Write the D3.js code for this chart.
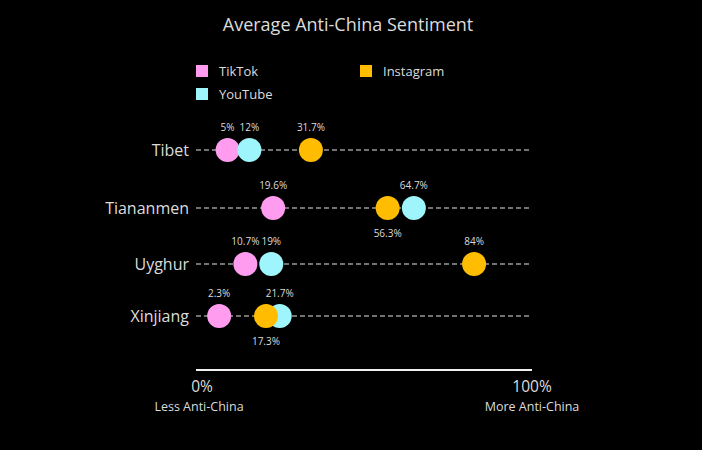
<!DOCTYPE html>
<html><head><meta charset="utf-8">
<script src="https://cdn.jsdelivr.net/npm/d3@7"></script>
<style>html,body{margin:0;padding:0;background:#000;}svg{display:block;}</style>
</head><body>
<svg id="chart" width="702" height="450"></svg>
<script>
const topics = ["Tibet", "Tiananmen", "Uyghur", "Xinjiang"];
const platforms = ["TikTok", "YouTube", "Instagram"];
const tiktokValues = [5, 19.6, 10.7, 2.3];
const youtubeValues = [12, 64.7, 19, 21.7];
const instagramValues = [31.7, 56.3, 84, 17.3];
const colors = ["#ff9cf0", "#9ef6fc", "#ffbc00"];
const labelsBelow = ["Tiananmen|Instagram", "Xinjiang|Instagram"];
const axisTicks = [0, 100];
const axisTickLabels = ["0%", "100%"];
const axisNotes = ["Less Anti-China", "More Anti-China"];

const seriesValues = {TikTok: tiktokValues, YouTube: youtubeValues, Instagram: instagramValues};
const svg = d3.select("#chart");
const font = "'Open Sans', 'Noto Sans', sans-serif";
const txt = "#dcdcdc";

svg.append("rect").attr("width", 702).attr("height", 450).attr("fill", "#000");

svg.append("text").attr("x", 348).attr("y", 31).attr("text-anchor", "middle")
  .attr("font-family", font).attr("font-size", 18).attr("fill", txt)
  .text("Average Anti-China Sentiment");

// legend
const legendPos = [[196, 65], [196, 88], [360, 65]];
const color = d3.scaleOrdinal().domain(platforms).range(colors);
platforms.forEach((p, i) => {
  const [lx, ly] = legendPos[i];
  svg.append("rect").attr("x", lx).attr("y", ly).attr("width", 12).attr("height", 12)
    .attr("fill", color(p));
  svg.append("text").attr("x", lx + 23).attr("y", ly + 6).attr("dominant-baseline", "central")
    .attr("font-family", font).attr("font-size", 13).attr("fill", txt).text(p);
});

const x = d3.scaleLinear().domain([0, 100]).range([212, 524]);
const y = d3.scaleOrdinal().domain(topics).range([150, 208, 264, 316]);
const lineX0 = 196, lineX1 = 532;

const rows = svg.append("g");
topics.forEach((t, ti) => {
  const cy = y(t);
  rows.append("line").attr("x1", lineX0).attr("x2", lineX1).attr("y1", cy).attr("y2", cy)
    .attr("stroke", "#e6e6e6").attr("stroke-width", 1).attr("stroke-dasharray", "5,3");
  rows.append("text").attr("x", 189).attr("y", cy).attr("text-anchor", "end")
    .attr("dominant-baseline", "central").attr("font-family", font).attr("font-size", 16)
    .attr("fill", txt).text(t);
  const pts = platforms.map(p => ({p, v: seriesValues[p][ti]}));
  pts.forEach(d => {
    rows.append("circle").attr("cx", x(d.v)).attr("cy", cy).attr("r", 12).attr("fill", color(d.p));
  });
  pts.forEach(d => {
    const below = labelsBelow.includes(t + "|" + d.p);
    rows.append("text").attr("x", x(d.v)).attr("y", below ? cy + 25 : cy - 23)
      .attr("text-anchor", "middle").attr("dominant-baseline", "central")
      .attr("font-family", font).attr("font-size", 10).attr("fill", txt)
      .text(d.v + "%");
  });
});

// bottom axis
svg.append("line").attr("x1", lineX0).attr("x2", lineX1).attr("y1", 370).attr("y2", 370)
  .attr("stroke", "#f0f0f0").attr("stroke-width", 2);
const axisLabelX = d3.scaleLinear().domain([0, 100]).range([202, 532]);
axisTicks.forEach((v, i) => {
  svg.append("text").attr("x", axisLabelX(v)).attr("y", 386).attr("text-anchor", "middle")
    .attr("dominant-baseline", "central").attr("font-family", font).attr("font-size", 15.5)
    .attr("fill", txt).text(axisTickLabels[i]);
  svg.append("text").attr("x", i === 0 ? 199 : 532).attr("y", 406).attr("text-anchor", "middle")
    .attr("dominant-baseline", "central").attr("font-family", font).attr("font-size", 12.5)
    .attr("fill", txt).text(axisNotes[i]);
});
</script>
</body></html>
